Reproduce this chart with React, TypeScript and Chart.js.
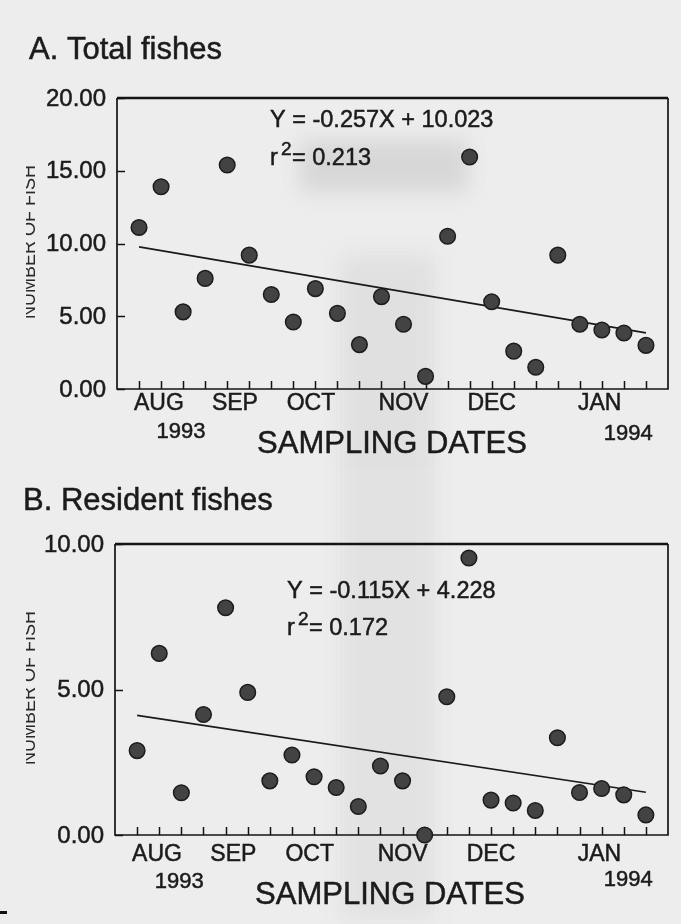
import React, { useEffect, useRef } from "react";
import { Chart, registerables } from "chart.js";

Chart.register(...registerables);

// ---------- data ----------
const sampleIndex = [1, 2, 3, 4, 5, 6, 7, 8, 9, 10, 11, 12, 13, 14, 15, 16, 17, 18, 19, 20, 21, 22, 23, 24];
const totalFishes = [11.1, 13.9, 5.3, 7.6, 15.4, 9.2, 6.5, 4.6, 6.9, 5.2, 3.05, 6.35, 4.45, 0.87, 10.5, 15.95, 6.0, 2.6, 1.5, 9.2, 4.45, 4.05, 3.85, 3.0];
const residentFishes = [2.9, 6.24, 1.45, 4.14, 7.81, 4.9, 1.86, 2.75, 2.0, 1.63, 0.98, 2.37, 1.86, 0.0, 4.75, 9.52, 1.2, 1.1, 0.84, 3.34, 1.46, 1.6, 1.38, 0.69];
const monthLabels = ["AUG", "SEP", "OCT", "NOV", "DEC", "JAN"];
const monthTicks = [1.9, 5.35, 8.8, 13.0, 17.0, 21.9];
const yearLabels = ["1993", "1994"];
const yearTicks = [2.9, 23.2];
const totalYTicks = [0, 5, 10, 15, 20];
const residentYTicks = [0, 5, 10];
const totalSlope = -0.257;
const totalIntercept = 10.023;
const totalR2 = 0.213;
const residentSlope = -0.115;
const residentIntercept = 4.228;
const residentR2 = 0.172;
const xAxisTitle = "SAMPLING DATES";
const yAxisTitle = "NUMBER OF FISH";

const FONT = "'Liberation Sans', Arial, sans-serif";
const INK = "#1b1b1b";

function inkText(ctx: CanvasRenderingContext2D, s: string, x: number, y: number) {
  ctx.fillText(s, x, y);
  ctx.strokeText(s, x, y);
}

const panelPlugin = {
  id: "panel",
  beforeDraw(chart: any, _a: any, o: any) {
    const ctx = chart.ctx;
    ctx.save();
    ctx.fillStyle = "#ededed";
    ctx.fillRect(0, 0, chart.width, chart.height);
    ctx.filter = "blur(10px)";
    for (const s of o.shades) {
      ctx.fillStyle = s.c;
      ctx.fillRect(s.x, s.y, s.w, s.h);
    }
    ctx.filter = "none";
    ctx.restore();
  },
  beforeDatasetsDraw(chart: any, _a: any, o: any) {
    const { ctx, chartArea: ca, scales } = chart;
    const x = scales.x;
    const y = scales.y;
    ctx.save();
    ctx.strokeStyle = "#141414";
    ctx.lineWidth = 1.7;
    ctx.beginPath();
    ctx.moveTo(ca.left, ca.top);
    ctx.lineTo(ca.left, ca.bottom);
    ctx.lineTo(ca.right, ca.bottom);
    ctx.lineTo(ca.right, ca.top);
    ctx.stroke();
    ctx.lineWidth = 2.5;
    ctx.beginPath();
    ctx.moveTo(ca.left, ca.top);
    ctx.lineTo(ca.right, ca.top);
    ctx.stroke();
    ctx.lineWidth = 1.5;
    ctx.beginPath();
    for (const v of sampleIndex) {
      const px = Math.round(x.getPixelForValue(v)) + 0.5;
      ctx.moveTo(px, ca.bottom);
      ctx.lineTo(px, ca.bottom - 8);
    }
    for (const v of o.yTicks) {
      const py = Math.round(y.getPixelForValue(v)) + 0.5;
      ctx.moveTo(ca.left, py);
      ctx.lineTo(ca.left + 8, py);
    }
    ctx.stroke();
    ctx.restore();
  },
  afterDraw(chart: any, _a: any, o: any) {
    const { ctx, chartArea: ca, scales } = chart;
    const x = scales.x;
    const y = scales.y;
    ctx.save();
    ctx.fillStyle = INK;
    ctx.strokeStyle = INK;
    ctx.lineWidth = 0.5;
    ctx.textBaseline = "alphabetic";

    // title
    ctx.font = `31px ${FONT}`;
    ctx.textAlign = "left";
    inkText(ctx, o.title, o.titleX, o.titleY);

    // y tick labels
    ctx.font = `24px ${FONT}`;
    ctx.textAlign = "right";
    ctx.textBaseline = "middle";
    for (const v of o.yTicks) {
      inkText(ctx, v.toFixed(2), ca.left - 11, y.getPixelForValue(v) + 1);
    }

    // months and years
    ctx.font = `23px ${FONT}`;
    ctx.textBaseline = "alphabetic";
    ctx.textAlign = "center";
    monthLabels.forEach((m, i) => {
      inkText(ctx, m, x.getPixelForValue(monthTicks[i]), ca.bottom + o.monthDy);
    });
    ctx.font = `22px ${FONT}`;
    yearLabels.forEach((m, i) => {
      inkText(ctx, m, x.getPixelForValue(yearTicks[i]), ca.bottom + o.yearDy[i]);
    });

    // x axis title
    ctx.font = `31px ${FONT}`;
    inkText(ctx, xAxisTitle, o.xTitleX, ca.bottom + o.xTitleDy);

    // equation
    ctx.textAlign = "left";
    ctx.font = `23.5px ${FONT}`;
    inkText(ctx, `Y = ${o.slope.toFixed(3)}X + ${o.intercept.toFixed(3)}`, o.eqX, ca.top + o.eqDy);
    inkText(ctx, "r", o.eqX, ca.top + o.r2Dy);
    inkText(ctx, `= ${o.r2.toFixed(3)}`, o.eqX + 22, ca.top + o.r2Dy);
    ctx.font = `19px ${FONT}`;
    inkText(ctx, "2", o.eqX + 11, ca.top + o.r2Dy - 10);

    // y axis title (cropped by the scan edge)
    ctx.save();
    ctx.beginPath();
    ctx.rect(26, 0, 60, chart.height);
    ctx.clip();
    ctx.translate(35, o.yTitleY);
    ctx.rotate(-Math.PI / 2);
    ctx.font = `18px ${FONT}`;
    ctx.fillStyle = "#2a2a2a";
    ctx.textAlign = "center";
    ctx.fillText(yAxisTitle, 0, 0);
    ctx.restore();

    if (o.mark) {
      ctx.fillStyle = "#111";
      ctx.fillRect(o.mark.x, o.mark.y, o.mark.w, o.mark.h);
    }
    ctx.restore();
  },
};

function makeConfig(values: number[], slope: number, intercept: number, yMax: number, padding: any, opts: any) {
  const first = sampleIndex[0];
  const last = sampleIndex[sampleIndex.length - 1];
  return {
    type: "scatter",
    data: {
      datasets: [
        {
          data: sampleIndex.map((v, i) => ({ x: v, y: values[i] })),
          pointRadius: 7.8,
          pointBackgroundColor: "#434343",
          pointBorderColor: "#1c1c1c",
          pointBorderWidth: 1.5,
          clip: false,
          order: 0,
        },
        {
          data: [
            { x: first, y: slope * first + intercept },
            { x: last, y: slope * last + intercept },
          ],
          showLine: true,
          borderColor: "#1a1a1a",
          borderWidth: 1.7,
          pointRadius: 0,
          clip: false,
          order: 1,
        },
      ],
    },
    options: {
      responsive: false,
      animation: false,
      events: [],
      layout: { padding },
      scales: {
        x: { type: "linear", min: 0, max: 25, display: false },
        y: { type: "linear", min: 0, max: yMax, display: false },
      },
      plugins: {
        legend: { display: false },
        tooltip: { enabled: false },
        panel: opts,
      },
    },
    plugins: [panelPlugin],
  } as any;
}

function Panel({ config, top, height }: { config: any; top: number; height: number }) {
  const ref = useRef<HTMLCanvasElement>(null);
  useEffect(() => {
    const chart = new Chart(ref.current as HTMLCanvasElement, config);
    return () => chart.destroy();
  }, [config]);
  return (
    <canvas
      ref={ref}
      width={681}
      height={height}
      style={{ position: "absolute", left: 0, top, width: 681, height, display: "block" }}
    />
  );
}

const configA = makeConfig(totalFishes, totalSlope, totalIntercept, 20, { left: 117, right: 13, top: 98, bottom: 81 }, {
  title: "A. Total fishes",
  titleX: 29,
  titleY: 59,
  yTicks: totalYTicks,
  monthDy: 21,
  yearDy: [49, 51],
  xTitleX: 392,
  xTitleDy: 64,
  slope: totalSlope,
  intercept: totalIntercept,
  r2: totalR2,
  eqX: 270,
  eqDy: 29,
  r2Dy: 67,
  yTitleY: 242,
  shades: [
    { x: 300, y: 140, w: 168, h: 52, c: "#d7d7d7" },
    { x: 340, y: 255, w: 95, h: 240, c: "#e0e0e0" },
  ],
});

const configB = makeConfig(residentFishes, residentSlope, residentIntercept, 10, { left: 115, right: 13, top: 74, bottom: 89 }, {
  title: "B. Resident fishes",
  titleX: 23,
  titleY: 40,
  yTicks: residentYTicks,
  monthDy: 26,
  yearDy: [53, 51],
  xTitleX: 390,
  xTitleDy: 69,
  slope: residentSlope,
  intercept: residentIntercept,
  r2: residentR2,
  eqX: 287,
  eqDy: 54,
  r2Dy: 91,
  yTitleY: 218,
  shades: [
    { x: 340, y: -20, w: 95, h: 470, c: "#e2e2e2" },
  ],
  mark: { x: 0, y: 441, w: 7, h: 3 },
});

export default function App() {
  return (
    <div style={{ position: "absolute", left: 0, top: 0, width: 681, height: 924, background: "#ededed", overflow: "hidden" }}>
      <Panel config={configA} top={0} height={470} />
      <Panel config={configB} top={470} height={454} />
    </div>
  );
}
